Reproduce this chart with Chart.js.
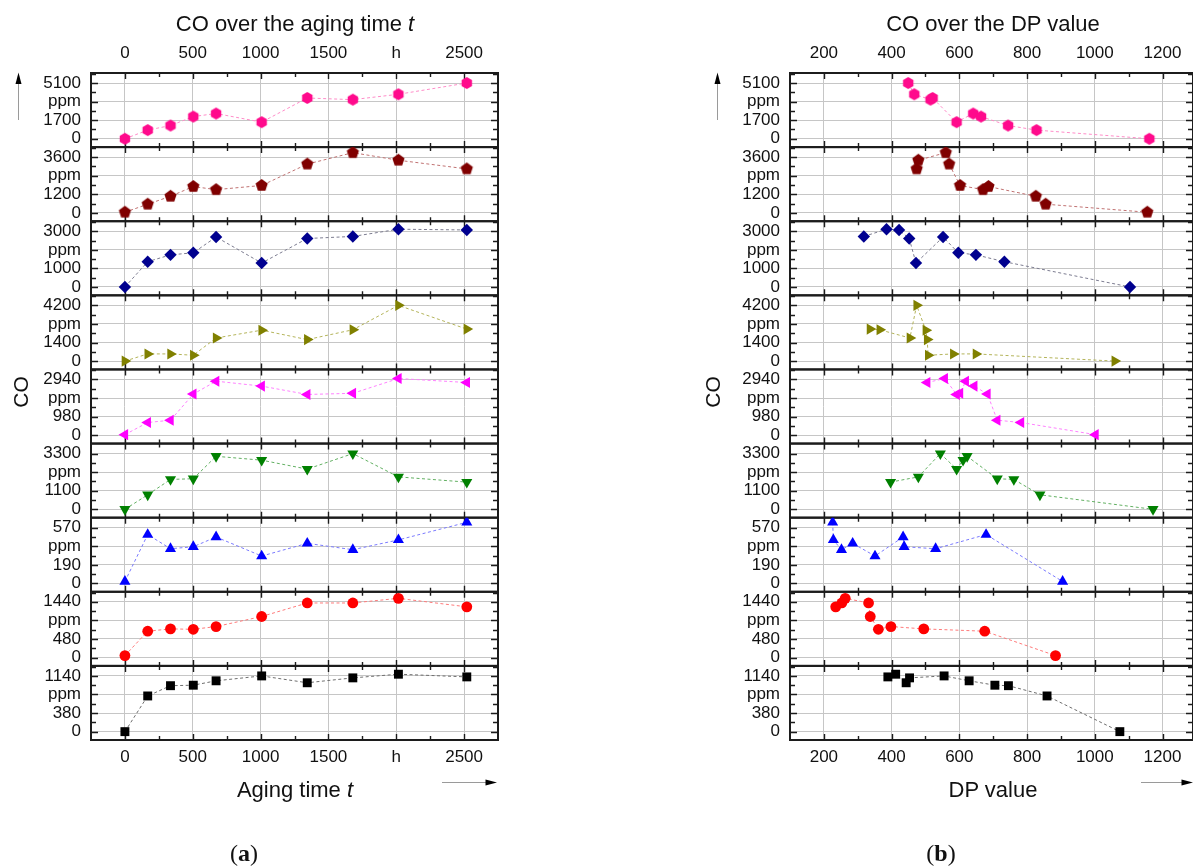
<!DOCTYPE html>
<html>
<head>
<meta charset="utf-8">
<title>CO over the aging time and over the DP value</title>
<script src="https://cdn.jsdelivr.net/npm/chart.js@4.4.1/dist/chart.umd.min.js"></script>
<style>
html,body{margin:0;padding:0;background:#fff;}
#page{position:relative;width:1193px;height:868px;overflow:hidden;font-family:"Liberation Sans",Arial,sans-serif;color:#111;}
canvas{position:absolute;}
.t{position:absolute;white-space:nowrap;font-size:22px;line-height:22px;text-align:center;width:300px;}
.cap{position:absolute;font-family:"Liberation Serif","Times New Roman",serif;font-size:24px;line-height:24px;text-align:center;width:60px;}
.ylab{position:absolute;width:60px;height:22px;font-size:21px;line-height:22px;text-align:center;transform:rotate(-90deg);}
svg{position:absolute;left:0;top:0;}
</style>
</head>
<body>
<div id="page">
<canvas id="chartA" width="560" height="868" style="left:0;top:0"></canvas>
<canvas id="chartB" width="493" height="868" style="left:700px;top:0"></canvas>
<svg width="1193" height="868">
  <line x1="18.5" y1="120" x2="18.5" y2="82" stroke="#9a9a9a" stroke-width="1"/>
  <polygon points="18.5,72.5 15.5,84 21.5,84" fill="#000"/>
  <line x1="717.5" y1="120" x2="717.5" y2="82" stroke="#9a9a9a" stroke-width="1"/>
  <polygon points="717.5,72.5 714.5,84 720.5,84" fill="#000"/>
  <line x1="442" y1="782.5" x2="487" y2="782.5" stroke="#9a9a9a" stroke-width="1"/>
  <polygon points="497,782.5 485.5,779.5 485.5,785.5" fill="#000"/>
  <line x1="1141" y1="782.5" x2="1183" y2="782.5" stroke="#9a9a9a" stroke-width="1"/>
  <polygon points="1193,782.5 1181.5,779.5 1181.5,785.5" fill="#000"/>
</svg>
<div class="t" style="left:145px;top:13px">CO over the aging time <i>t</i></div>
<div class="t" style="left:843px;top:13px">CO over the DP value</div>
<div class="t" style="left:145px;top:779px">Aging time <i>t</i></div>
<div class="t" style="left:843px;top:779px">DP value</div>
<div class="ylab" style="left:-9px;top:381px">CO</div>
<div class="ylab" style="left:683px;top:381px">CO</div>
<div class="cap" style="left:214px;top:841px">(<b>a</b>)</div>
<div class="cap" style="left:911px;top:841px">(<b>b</b>)</div>
</div>
<script>
// ---------------- data ----------------
const agingHours = [0, 168, 336, 504, 672, 1008, 1344, 1680, 2016, 2520];

// CO concentration (ppm) per sample, in aging-time order
const coHexagon  = [0, 790, 1210, 2030, 2310, 1520, 3730, 3580, 4070, 5100];
const coPentagon = [40, 560, 1070, 1700, 1500, 1770, 3150, 3890, 3400, 2840];
const coDiamond  = [0, 1360, 1730, 1840, 2690, 1290, 2610, 2720, 3110, 3070];
const coRightTri = [0, 540, 540, 440, 1740, 2330, 1620, 2360, 4200, 2410];
const coLeftTri  = [30, 670, 790, 2170, 2850, 2590, 2150, 2210, 2990, 2780];
const coDownTri  = [0, 860, 1770, 1810, 3140, 2910, 2380, 3300, 1920, 1610];
const coUpTri    = [20, 500, 355, 375, 475, 280, 410, 345, 445, 625];
const coCircle   = [50, 680, 740, 730, 800, 1060, 1410, 1410, 1530, 1310];
const coSquare   = [0, 730, 940, 950, 1040, 1140, 1000, 1100, 1175, 1120];

// DP value per sample, in aging-time order
const dpHexagon  = [1161, 828, 744, 664, 641, 592, 521, 515, 467, 449];
const dpPentagon = [1155, 855, 826, 686, 670, 602, 570, 560, 479, 474];
const dpDiamond  = [1104, 733, 649, 597, 552, 472, 452, 318, 385, 422];
const dpRightTri = [1059, 649, 582, 508, 454, 501, 505, 365, 474, 336];
const dpLeftTri  = [1002, 782, 712, 683, 619, 644, 592, 602, 557, 505];
const dpDownTri  = [1172, 838, 761, 712, 623, 611, 592, 544, 479, 397];
const dpUpTri    = [905, 679, 530, 437, 434, 351, 285, 252, 228, 226];
const dpCircle   = [884, 675, 495, 361, 398, 337, 332, 253, 263, 235];
const dpSquare   = [1074, 859, 745, 705, 629, 555, 443, 453, 412, 389];

// y tick step (ppm) of each stacked panel, top to bottom
const ppmSteps = [1700, 1200, 1000, 1400, 980, 1100, 190, 480, 380];

const timeTicks = [0, 500, 1000, 1500, 2000, 2500];
const timeTickLabels = ['0', '500', '1000', '1500', 'h', '2500'];
const dpTicks = [200, 400, 600, 800, 1000, 1200];
const dpTickLabels = ['200', '400', '600', '800', '1000', '1200'];

const coSeries = [coHexagon, coPentagon, coDiamond, coRightTri, coLeftTri, coDownTri, coUpTri, coCircle, coSquare];
const dpSeries = [dpHexagon, dpPentagon, dpDiamond, dpRightTri, dpLeftTri, dpDownTri, dpUpTri, dpCircle, dpSquare];

// ---------------- styles ----------------
const FONT = '"Liberation Sans", Arial, sans-serif';
const GRID = '#c6c6c6';
const FRAME = '#1c1c1c';

function polyImage(n, r, color) {
  const size = Math.ceil(2 * r + 2);
  const c = document.createElement('canvas');
  c.width = size; c.height = size;
  const g = c.getContext('2d');
  g.fillStyle = color;
  g.beginPath();
  for (let k = 0; k < n; k++) {
    const ang = (k * 360 / n) * Math.PI / 180;
    const px = size / 2 + r * Math.sin(ang), py = size / 2 - r * Math.cos(ang);
    if (k === 0) g.moveTo(px, py); else g.lineTo(px, py);
  }
  g.closePath();
  g.fill();
  return c;
}

const styles = [
  {color: '#ff0a8c', line: '#ff8cc8', style: () => polyImage(6, 6, '#ff0a8c'), rot: 0, r: 6},
  {color: '#800000', line: '#c07272', style: () => polyImage(5, 6.4, '#800000'), rot: 0, r: 6},
  {color: '#00008f', line: '#7c7c90', style: () => 'rectRot', rot: 0, r: 6.2},
  {color: '#808000', line: '#b4b45a', style: () => 'triangle', rot: 90, r: 6.4},
  {color: '#ff00ff', line: '#ff80ff', style: () => 'triangle', rot: 270, r: 6.4},
  {color: '#008000', line: '#62b062', style: () => 'triangle', rot: 180, r: 6.4},
  {color: '#0000ff', line: '#7a7aff', style: () => 'triangle', rot: 0, r: 6.4},
  {color: '#ff0000', line: '#ff7a7a', style: () => 'circle', rot: 0, r: 5.4},
  {color: '#000000', line: '#6e6e6e', style: () => 'rect', rot: 0, r: 6.3}
];

function yMajors(i) { const s = ppmSteps[i]; return [0, s, 2 * s, 3 * s]; }

function yScale(i, width) {
  const s = ppmSteps[i];
  const majors = yMajors(i);
  const minors = [0.5 * s, 1.5 * s, 2.5 * s, 3.5 * s];
  const labels = ['0', String(s), 'ppm', String(3 * s)];
  const all = majors.concat(minors).sort((a, b) => a - b);
  return {
    type: 'linear', position: 'left', stack: 'co', stackWeight: 1, weight: 9 - i,
    min: -0.45 * s, max: 3.54 * s,
    afterBuildTicks: sc => { sc.ticks = all.map(v => ({value: v})); },
    afterFit: sc => { sc.width = width; sc.paddingTop = 0; sc.paddingBottom = 0; },
    border: {display: false},
    grid: {drawTicks: false, lineWidth: 1,
      color: c => (c.tick && majors.includes(c.tick.value)) ? GRID : 'rgba(0,0,0,0)'},
    ticks: {autoSkip: false, padding: 10, color: '#111', font: {family: FONT, size: 17},
      callback: v => { const k = majors.indexOf(v); return k < 0 ? '' : labels[k]; }}
  };
}

function xScales(min, max, majors, majorLabels) {
  const minors = [];
  for (let k = 0; k < majors.length - 1; k++) minors.push((majors[k] + majors[k + 1]) / 2);
  const all = majors.concat(minors).sort((a, b) => a - b);
  const tickOpts = pad => ({autoSkip: false, maxRotation: 0, minRotation: 0, padding: pad, color: '#111',
    font: {family: FONT, size: 17},
    callback: v => { const k = majors.indexOf(v); return k < 0 ? '' : majorLabels[k]; }});
  const base = {type: 'linear', min, max, border: {display: false},
    afterBuildTicks: sc => { sc.ticks = all.map(v => ({value: v})); },
    afterFit: sc => { sc.height = 40; sc.paddingLeft = 0; sc.paddingRight = 0; }};
  return {
    x: Object.assign({}, base, {position: 'bottom', ticks: tickOpts(7),
      grid: {drawTicks: false, lineWidth: 1, color: c => (c.tick && majors.includes(c.tick.value)) ? GRID : 'rgba(0,0,0,0)'}}),
    xTop: Object.assign({}, base, {position: 'top', ticks: tickOpts(9), grid: {display: false, drawTicks: false}})
  };
}

const framePlugin = {
  id: 'frame',
  beforeDatasetsDraw(chart, args, opts) {
    const {ctx, chartArea: a} = chart;
    const xs = chart.scales.x;
    const xMaj = opts.xMajors;
    ctx.save();
    ctx.strokeStyle = FRAME;
    ctx.lineWidth = 1.4;
    ctx.beginPath();
    for (let i = 0; i < 9; i++) {
      const ys = chart.scales['y' + i];
      const maj = yMajors(i);
      ys.ticks.forEach(t => {
        const py = Math.round(ys.getPixelForValue(t.value)) + 0.5;
        if (py < ys.top + 1 || py > ys.bottom - 1) return;
        const len = maj.includes(t.value) ? 7 : 5;
        ctx.moveTo(a.left, py); ctx.lineTo(a.left + len, py);
        ctx.moveTo(a.right - len, py); ctx.lineTo(a.right, py);
      });
      xs.ticks.forEach(t => {
        const px = Math.round(xs.getPixelForValue(t.value)) + 0.5;
        const len = xMaj.includes(t.value) ? 6 : 4;
        ctx.moveTo(px, ys.top); ctx.lineTo(px, ys.top + len);
        ctx.moveTo(px, ys.bottom - len); ctx.lineTo(px, ys.bottom);
      });
    }
    ctx.stroke();
    ctx.lineWidth = 2;
    for (let i = 0; i < 9; i++) {
      const ys = chart.scales['y' + i];
      ctx.strokeRect(a.left, ys.top, a.right - a.left, ys.bottom - ys.top);
    }
    ctx.restore();
  }
};

function buildChart(id, xs, yWidth, padRight, pointsFor, xMajors) {
  const scales = Object.assign({}, xs);
  for (let i = 0; i < 9; i++) scales['y' + i] = yScale(i, yWidth);
  const datasets = styles.map((st, i) => ({
    data: pointsFor(i),
    xAxisID: 'x', yAxisID: 'y' + i,
    showLine: true,
    borderColor: st.line, borderWidth: 1, borderDash: [3, 2.5],
    backgroundColor: st.color,
    pointStyle: st.style(), pointRotation: st.rot, pointRadius: st.r,
    pointBackgroundColor: st.color, pointBorderWidth: 0, pointHoverRadius: st.r
  }));
  return new Chart(document.getElementById(id), {
    type: 'scatter',
    data: {datasets},
    options: {
      responsive: false, animation: false, devicePixelRatio: 1, events: [],
      layout: {autoPadding: false, padding: {left: 0, right: padRight, top: 33, bottom: 88}},
      plugins: {legend: {display: false}, tooltip: {enabled: false}, frame: {xMajors}},
      scales
    },
    plugins: [framePlugin]
  });
}

buildChart('chartA', xScales(-250, 2750, timeTicks, timeTickLabels), 91, 62,
  i => agingHours.map((t, k) => ({x: t, y: coSeries[i][k]})), timeTicks);

buildChart('chartB', xScales(100, 1290, dpTicks, dpTickLabels), 90, 0,
  i => dpSeries[i].map((d, k) => ({x: d, y: coSeries[i][k]})).sort((p, q) => p.x - q.x), dpTicks);
</script>
</body>
</html>
